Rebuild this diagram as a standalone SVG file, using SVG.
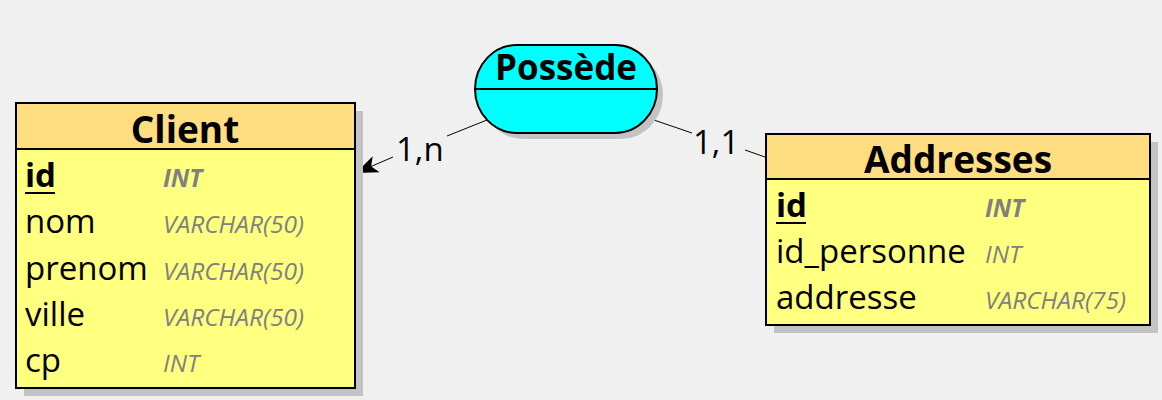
<svg xmlns="http://www.w3.org/2000/svg" width="1162" height="400" viewBox="0 0 1162 400">
<defs>
<style>
.bg{fill:#f0f0f0}
.shadow{fill:#c3c3c3}
.head{fill:#ffdd80;stroke:#000;stroke-width:2}
.body{fill:#ffff80;stroke:#000;stroke-width:2}
.title{font-family:"Open Sans","Noto Sans",sans-serif;font-weight:bold;font-size:37px;fill:#000;text-anchor:middle}
.attr{font-family:"Open Sans","Noto Sans",sans-serif;font-size:33px;fill:#000}
.key{font-weight:bold}
.type{font-family:"Open Sans","Noto Sans",sans-serif;font-size:24.5px;font-style:italic;fill:#808080}
.tkey{font-weight:bold}
.card{font-family:"Open Sans","Noto Sans",sans-serif;font-size:33px;fill:#000}
.link{stroke:#000;stroke-width:1;fill:none}
</style>
<marker id="arr" viewBox="0 0 10 10" refX="10" refY="5" markerWidth="22" markerHeight="22" markerUnits="userSpaceOnUse" orient="auto">
<path d="M0,1 L10,5 L0,9 L2.5,5 z" fill="#000"/>
</marker>
</defs>
<rect class="bg" x="0" y="0" width="1162" height="400"/>

<g id="connectors">
<line class="link" x1="487" y1="120" x2="447" y2="136"/>
<line class="link" x1="393" y1="157" x2="356" y2="173" marker-end="url(#arr)"/>
<text class="card" x="396" y="161">1,n</text>
<line class="link" x1="648" y1="118" x2="692" y2="133"/>
<line class="link" x1="745" y1="150" x2="765" y2="157"/>
<text class="card" x="693" y="154">1,1</text>
</g>

<g id="possede">
<rect class="shadow" x="481" y="51" width="182" height="88" rx="42" ry="44"/>
<rect x="475" y="45" width="182" height="88" rx="42" ry="44" fill="#00ffff" stroke="#000" stroke-width="2"/>
<line x1="475" y1="89" x2="657" y2="89" stroke="#000" stroke-width="2"/>
<text class="title" x="566" y="80" style="font-size:35px">Possède</text>
</g>

<g id="client">
<rect class="shadow" x="24" y="111" width="339" height="285"/>
<rect class="body" x="16" y="103" width="339" height="285"/>
<rect class="head" x="16" y="103" width="339" height="46"/>
<text class="title" x="185" y="143">Client</text>
<text class="attr key" x="25" y="187">id</text>
<line x1="25" y1="193" x2="55" y2="193" stroke="#000" stroke-width="2"/>
<text class="type tkey" x="163" y="187">INT</text>
<text class="attr" x="25" y="233">nom</text>
<text class="type" x="163" y="233">VARCHAR(50)</text>
<text class="attr" x="25" y="280">prenom</text>
<text class="type" x="163" y="280">VARCHAR(50)</text>
<text class="attr" x="25" y="326">ville</text>
<text class="type" x="163" y="326">VARCHAR(50)</text>
<text class="attr" x="25" y="372">cp</text>
<text class="type" x="163" y="372">INT</text>
</g>

<g id="addresses">
<rect class="shadow" x="774" y="142" width="384" height="191"/>
<rect class="body" x="766" y="134" width="384" height="191"/>
<rect class="head" x="766" y="134" width="384" height="45"/>
<text class="title" x="958" y="173">Addresses</text>
<text class="attr key" x="776" y="217">id</text>
<line x1="776" y1="223" x2="806" y2="223" stroke="#000" stroke-width="2"/>
<text class="type tkey" x="985" y="217">INT</text>
<text class="attr" x="776" y="263">id_personne</text>
<text class="type" x="985" y="263">INT</text>
<text class="attr" x="776" y="309">addresse</text>
<text class="type" x="985" y="309">VARCHAR(75)</text>
</g>
</svg>
